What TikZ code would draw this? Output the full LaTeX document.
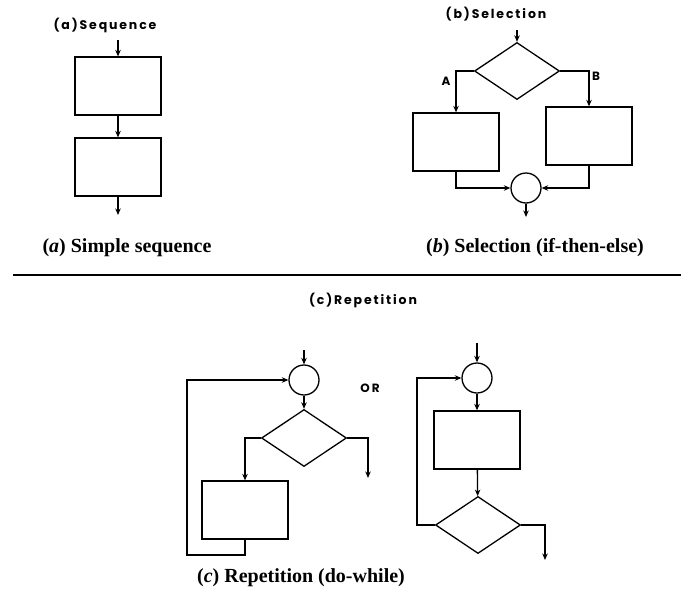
\documentclass[tikz,border=0pt]{standalone}
\usepackage{fontspec}
\setmainfont{Liberation Serif}
\newfontfamily\tagfont[LetterSpace=15]{Poppins}
\newfontfamily\markfont{Poppins}
\usetikzlibrary{shapes.geometric,arrows.meta}
\begin{document}
\begin{tikzpicture}[x=1pt,y=-1pt,
  line width=1.3pt,proc node/.style={draw,minimum width=86pt,minimum height=58pt,inner sep=0pt},
  test node/.style={diamond,draw,minimum width=85pt,minimum height=57pt,inner sep=0pt},
  join node/.style={circle,draw,minimum size=30pt,inner sep=0pt},
  flow/.style={-{Stealth[length=6.5pt,width=5.5pt]}},
  tag/.style={font=\tagfont\bfseries\fontsize{12.5}{14}\selectfont},
  mark text/.style={font=\markfont\bfseries\fontsize{12}{14}\selectfont},
  caption text/.style={font=\bfseries\fontsize{20}{24}\selectfont} ]

  \useasboundingbox (0,0) rectangle (681,600);

  % (a) sequence
  \node[tag] (seqlab) at (105,25) {(a)Sequence};
  \coordinate (ain) at (118,40);
  \node[proc node] (a1) at (118,86) {};
  \node[proc node] (a2) at (118,167) {};
  \coordinate (aout) at (118,215);
  \draw[flow] (ain) -- (a1);
  \draw[flow] (a1) -- (a2);
  \draw[flow] (a2) -- (aout);
  \node[caption text] (capa) at (127,248) {(\textit{a}) Simple sequence};

  % (b) selection
  \node[tag] (sellab) at (496,14) {(b)Selection};
  \coordinate (bin) at (517,30);
  \node[test node] (bt) at (517,71) {};
  \node[proc node] (ba) at (456,142) {};
  \node[proc node] (bb) at (589,136) {};
  \node[join node] (bj) at (526,188) {};
  \coordinate (bout) at (526,217);
  \node[mark text] (la) at (446,81) {A};
  \node[mark text] (lb) at (596,76) {B};
  \draw[flow] (bin) -- (bt);
  \draw[flow] (bt.west) -| (ba.north);
  \draw[flow] (bt.east) -| (bb.north);
  \draw[flow] (ba.south) |- (bj.west);
  \draw[flow] (bb.south) |- (bj.east);
  \draw[flow] (bj) -- (bout);
  \node[caption text] (capb) at (535,248) {(\textit{b}) Selection (if-then-else)};

  \draw (13,275) -- (681,275);

  % (c) repetition
  \node[tag] (replab) at (363,300) {(c)Repetition};

  % while loop
  \coordinate (cin) at (304,350);
  \node[join node] (cj) at (304,380) {};
  \node[test node] (ct) at (304,438) {};
  \node[proc node] (cp) at (245,510) {};
  \coordinate (cout) at (368,478);
  \coordinate (cback) at (187,555);
  \draw[flow] (cin) -- (cj);
  \draw[flow] (cj) -- (ct);
  \draw[flow] (ct.east) -| (cout);
  \draw[flow] (ct.west) -| (cp.north);
  \draw[flow] (cp.south) |- (cback) |- (cj.west);

  \node[mark text] (or) at (370,388) {O\,R};

  % do-while loop
  \coordinate (din) at (477,343);
  \node[join node] (dj) at (477,378) {};
  \node[proc node] (dp) at (477,440) {};
  \node[test node] (dt) at (478,525) {};
  \coordinate (dout) at (545,560);
  \coordinate (dback) at (417,378);
  \draw[flow] (din) -- (dj);
  \draw[flow] (dj) -- (dp);
  \draw[flow] (dp) -- (dt);
  \draw[flow] (dt.east) -| (dout);
  \draw[flow] (dt.west) -| (dback) -- (dj.west);
  \node[caption text] (capc) at (301,578) {(\textit{c}) Repetition (do-while)};
\end{tikzpicture}
\end{document}
